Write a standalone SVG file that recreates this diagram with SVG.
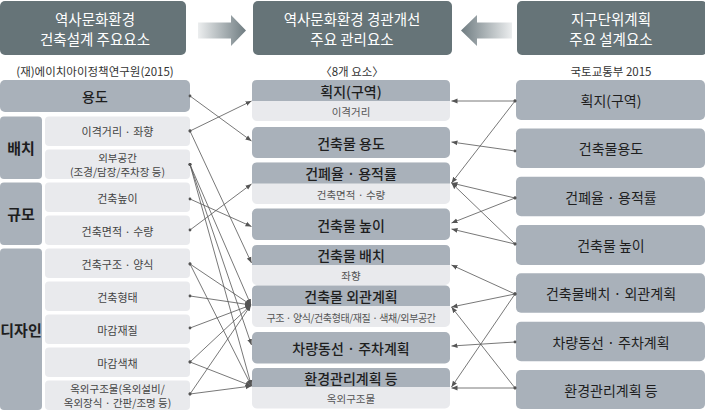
<svg xmlns="http://www.w3.org/2000/svg" width="705" height="413" viewBox="0 0 705 413">
<defs>
<linearGradient id="gR" x1="0" y1="0" x2="1" y2="0"><stop offset="0" stop-color="#eceeef"/><stop offset="1" stop-color="#6f7c81"/></linearGradient>
<linearGradient id="gL" x1="1" y1="0" x2="0" y2="0"><stop offset="0" stop-color="#eceeef"/><stop offset="1" stop-color="#6f7c81"/></linearGradient>
<marker id="ah" markerUnits="userSpaceOnUse" markerWidth="7" markerHeight="6" refX="6" refY="3" orient="auto"><path d="M0,0.6 L6,3 L0,5.4 z" fill="#555"/></marker>
<marker id="dt" markerUnits="userSpaceOnUse" markerWidth="4" markerHeight="4" refX="2" refY="2"><circle cx="2" cy="2" r="1.4" fill="#555"/></marker>
<style>
.hdr{fill:#667478}
.dk{fill:#a9b1ba}
.lt{fill:#e9eaed}
text{font-family:"Noto Sans CJK KR","Noto Sans",sans-serif;text-anchor:middle;dominant-baseline:central;fill:#1e1e1e}
.ht{fill:#fff;font-size:14.5px}
.st{font-size:11.5px;fill:#333}
.m{font-size:14px;font-weight:500}
.lb{font-size:15px;font-weight:700}
.s{font-size:11px;fill:#444}
.s2{font-size:10.5px;fill:#444}
.ms{font-size:10.5px;fill:#555}
.ms2{font-size:10px;fill:#555;letter-spacing:-0.4px}
.r{font-size:14px}
#conn line{stroke:#555;stroke-width:0.8;marker-start:url(#dt);marker-end:url(#ah)}
</style>
</defs>

<g id="header-left"><rect class="hdr" x="0" y="1" width="186" height="54" rx="5"/><text class="ht" x="95" y="18">역사문화환경</text><text class="ht" x="95" y="38">건축설계 주요요소</text><text class="st" x="95" y="71">(재)에이치아이정책연구원(2015)</text></g>
<g id="header-mid"><rect class="hdr" x="253" y="1" width="199" height="54" rx="5"/><text class="ht" x="352" y="18">역사문화환경 경관개선</text><text class="ht" x="352" y="38">주요 관리요소</text><text class="st" x="352" y="71">〈8개 요소〉</text></g>
<g id="header-right"><rect class="hdr" x="517" y="1" width="190" height="54" rx="5"/><text class="ht" x="611" y="18">지구단위계획</text><text class="ht" x="611" y="38">주요 설계요소</text><text class="st" x="611" y="71">국토교통부 2015</text></g>
<g id="arrow-left"><path d="M198,22.5 H231 V15 L246,30.5 L231,46 V38.5 H198 Z" fill="url(#gR)"/></g>
<g id="arrow-right"><path d="M512,22.5 H477 V15 L461,30.5 L477,46 V38.5 H512 Z" fill="url(#gL)"/></g>

<g id="left-yongdo"><rect class="dk" x="0" y="80" width="190" height="32" rx="5"/><text class="m" x="95" y="96">용도</text></g>
<g id="left-baechi"><rect class="dk" x="0" y="116.5" width="42" height="62.5" rx="4"/><text class="lb" x="21" y="147.5">배치</text></g>
<g id="left-igyeok"><rect class="lt" x="45" y="116.5" width="145" height="29.5" rx="4"/><text class="s" x="117.5" y="131">이격거리 · 좌향</text></g>
<g id="left-oebu"><rect class="lt" x="45" y="149.5" width="145" height="29.5" rx="4"/><text class="s2" x="117.5" y="157">외부공간</text><text class="s2" x="117.5" y="171.5">(조경/담장/주차장 등)</text></g>
<g id="left-gyumo"><rect class="dk" x="0" y="182.5" width="42" height="62.5" rx="4"/><text class="lb" x="21" y="213.5">규모</text></g>
<g id="left-nopi"><rect class="lt" x="45" y="182.5" width="145" height="29.5" rx="4"/><text class="s" x="117.5" y="197.5">건축높이</text></g>
<g id="left-myeonjeok"><rect class="lt" x="45" y="215.5" width="145" height="29.5" rx="4"/><text class="s" x="117.5" y="230.5">건축면적 · 수량</text></g>
<g id="left-design"><rect class="dk" x="0" y="248.5" width="42" height="161.5" rx="4"/><text class="lb" x="21" y="329">디자인</text></g>
<g id="left-gujo"><rect class="lt" x="45" y="248.5" width="145" height="29.5" rx="4"/><text class="s" x="117.5" y="263.5">건축구조 · 양식</text></g>
<g id="left-hyeongtae"><rect class="lt" x="45" y="281.5" width="145" height="29.5" rx="4"/><text class="s" x="117.5" y="296.5">건축형태</text></g>
<g id="left-jaejil"><rect class="lt" x="45" y="314.5" width="145" height="29.5" rx="4"/><text class="s" x="117.5" y="329.5">마감재질</text></g>
<g id="left-saekchae"><rect class="lt" x="45" y="347.5" width="145" height="29.5" rx="4"/><text class="s" x="117.5" y="362.5">마감색채</text></g>
<g id="left-okoe"><rect class="lt" x="45" y="380.5" width="145" height="29.5" rx="4"/><text class="s2" x="117.5" y="388">옥외구조물(옥외설비/</text><text class="s2" x="117.5" y="402.5">옥외장식 · 간판/조명 등)</text></g>

<g id="mid-hoekji"><rect class="lt" x="252" y="80" width="198" height="41" rx="5"/><path class="dk" d="M252,101 V85 Q252,80 257,80 H445 Q450,80 450,85 V101 Z"/><text class="m" x="351" y="90.5">획지(구역)</text><text class="ms" x="351" y="111.5">이격거리</text></g>
<g id="mid-yongdo"><rect class="dk" x="252" y="127" width="198" height="31" rx="5"/><text class="m" x="351" y="142.5">건축물 용도</text></g>
<g id="mid-geonpye"><rect class="lt" x="252" y="162.5" width="198" height="41.5" rx="5"/><path class="dk" d="M252,183.5 V167.5 Q252,162.5 257,162.5 H445 Q450,162.5 450,167.5 V183.5 Z"/><text class="m" x="351" y="173">건폐율 · 용적률</text><text class="ms" x="351" y="194">건축면적 · 수량</text></g>
<g id="mid-nopi"><rect class="dk" x="252" y="208.5" width="198" height="31.5" rx="5"/><text class="m" x="351" y="224.5">건축물 높이</text></g>
<g id="mid-baechi"><rect class="lt" x="252" y="245" width="198" height="40" rx="5"/><path class="dk" d="M252,265 V250 Q252,245 257,245 H445 Q450,245 450,250 V265 Z"/><text class="m" x="351" y="255">건축물 배치</text><text class="ms" x="351" y="275.5">좌향</text></g>
<g id="mid-oegwan"><rect class="lt" x="252" y="285.5" width="198" height="41.5" rx="5"/><path class="dk" d="M252,306 V290.5 Q252,285.5 257,285.5 H445 Q450,285.5 450,290.5 V306 Z"/><text class="m" x="351" y="296">건축물 외관계획</text><text class="ms2" x="351" y="317">구조 · 양식/건축형태/재질 · 색채/외부공간</text></g>
<g id="mid-chayang"><rect class="dk" x="252" y="332" width="198" height="31.5" rx="5"/><text class="m" x="351" y="348">차량동선 · 주차계획</text></g>
<g id="mid-hwangyeong"><rect class="lt" x="252" y="368" width="198" height="40.5" rx="5"/><path class="dk" d="M252,387 V373 Q252,368 257,368 H445 Q450,368 450,373 V387 Z"/><text class="m" x="351" y="378">환경관리계획 등</text><text class="ms" x="351" y="398.5">옥외구조물</text></g>

<g id="right-hoekji"><rect class="dk" x="516" y="80" width="189" height="40" rx="5"/><text class="r" x="611" y="100">획지(구역)</text></g>
<g id="right-yongdo"><rect class="dk" x="516" y="128.5" width="189" height="39.5" rx="5"/><text class="r" x="611" y="148">건축물용도</text></g>
<g id="right-geonpye"><rect class="dk" x="516" y="176.8" width="189" height="39.5" rx="5"/><text class="r" x="611" y="196.5">건폐율 · 용적률</text></g>
<g id="right-nopi"><rect class="dk" x="516" y="225" width="189" height="40" rx="5"/><text class="r" x="611" y="245">건축물 높이</text></g>
<g id="right-baechi"><rect class="dk" x="516" y="273.3" width="189" height="39.5" rx="5"/><text class="r" x="611" y="293">건축물배치 · 외관계획</text></g>
<g id="right-chayang"><rect class="dk" x="516" y="321.7" width="189" height="39.5" rx="5"/><text class="r" x="611" y="341.5">차량동선 · 주차계획</text></g>
<g id="right-hwangyeong"><rect class="dk" x="516" y="370" width="189" height="39" rx="5"/><text class="r" x="611" y="389.5">환경관리계획 등</text></g>

<g id="conn">
<line x1="190" y1="96" x2="251.5" y2="141"/>
<line x1="190" y1="131" x2="251.5" y2="101"/>
<line x1="190" y1="131" x2="251.5" y2="263"/>
<line x1="190" y1="164.5" x2="251" y2="305"/>
<line x1="190" y1="164.5" x2="251.5" y2="345"/>
<line x1="190" y1="164.5" x2="251.5" y2="386"/>
<line x1="190" y1="199" x2="251.5" y2="226.5"/>
<line x1="190" y1="230" x2="251.5" y2="184"/>
<line x1="190" y1="264" x2="251" y2="305"/>
<line x1="190" y1="264" x2="251.5" y2="386"/>
<line x1="190" y1="296" x2="251" y2="305"/>
<line x1="190" y1="328" x2="251" y2="305"/>
<line x1="190" y1="362" x2="251" y2="305"/>
<line x1="190" y1="362" x2="251.5" y2="386"/>
<line x1="190" y1="394" x2="251" y2="305"/>
<line x1="190" y1="394" x2="251.5" y2="386"/>
<line x1="515" y1="101" x2="451.5" y2="101"/>
<line x1="515" y1="101" x2="451.5" y2="183"/>
<line x1="515" y1="151" x2="451.5" y2="142"/>
<line x1="515" y1="198" x2="451.5" y2="183"/>
<line x1="515" y1="198" x2="451.5" y2="223"/>
<line x1="515" y1="244" x2="451.5" y2="183"/>
<line x1="515" y1="244" x2="451.5" y2="229"/>
<line x1="515" y1="294" x2="451.5" y2="265"/>
<line x1="515" y1="294" x2="451.5" y2="307"/>
<line x1="515" y1="294" x2="451.5" y2="387"/>
<line x1="515" y1="342" x2="451.5" y2="346"/>
<line x1="515" y1="388" x2="451.5" y2="307"/>
<line x1="515" y1="388" x2="451.5" y2="388"/>
</g>
</svg>
